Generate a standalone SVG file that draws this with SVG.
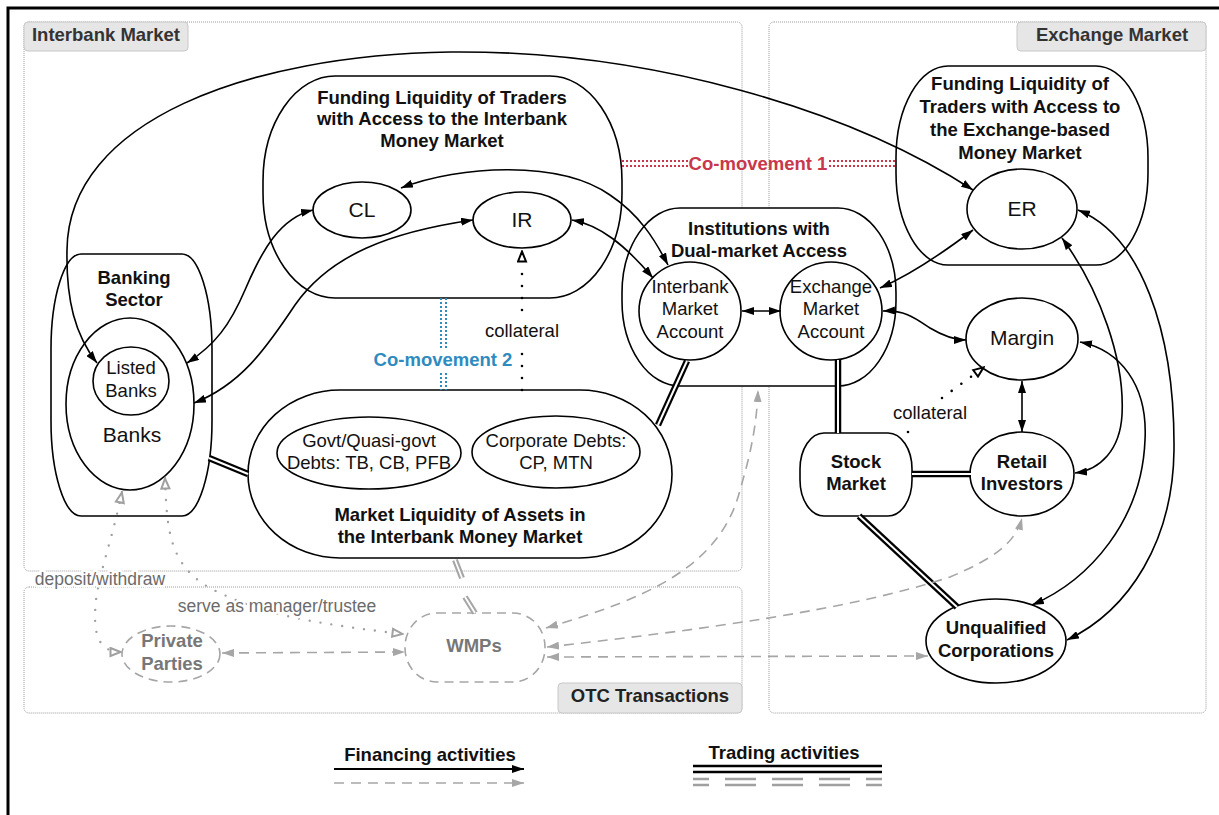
<svg xmlns="http://www.w3.org/2000/svg" width="1219" height="815" viewBox="0 0 1219 815">
<style>
.t{font-family:"Liberation Sans",Arial,sans-serif;font-size:18.5px;text-anchor:middle;fill:#111}
.b{font-weight:bold}
.big{font-size:21px}
.g{fill:#6e6e6e}
.panel{fill:#fff;stroke:#9a9a9a;stroke-width:1;stroke-dasharray:1 1}
.tab{fill:#e6e6e6;stroke:#c8c8c8;stroke-width:1}
.tabt{font-family:"Liberation Sans",Arial,sans-serif;font-size:18.5px;font-weight:bold;fill:#333}
.n{fill:#fff;stroke:#000;stroke-width:1.6}
.ng{fill:#fff;stroke:#a6a6a6;stroke-width:1.6;stroke-dasharray:9 6}
.e{fill:none;stroke:#000;stroke-width:1.6;marker-start:url(#a);marker-end:url(#a)}
.ge{fill:none;stroke:#a6a6a6;stroke-width:1.6;stroke-dasharray:10 7;marker-start:url(#ag);marker-end:url(#ag)}
.gd{fill:none;stroke:#a0a0a0;stroke-width:2.4;stroke-dasharray:0 11;stroke-linecap:round;marker-start:url(#og);marker-end:url(#og)}
.dot{fill:none;stroke:#000;stroke-width:2.6;stroke-dasharray:0 12;stroke-linecap:round}
.d1{fill:none;stroke:#000;stroke-width:6.5}
.d2{fill:none;stroke:#fff;stroke-width:2}
.halo{paint-order:stroke;stroke:#fff;stroke-width:5px;stroke-linejoin:round}
</style>
<defs>
<marker id="a" viewBox="0 0 12 8" refX="12" refY="4" markerWidth="12" markerHeight="8" markerUnits="userSpaceOnUse" orient="auto-start-reverse"><path d="M0,0 L12,4 L0,8 z" fill="#000"/></marker>
<marker id="ag" viewBox="0 0 12 8" refX="12" refY="4" markerWidth="12" markerHeight="8" markerUnits="userSpaceOnUse" orient="auto-start-reverse"><path d="M0,0 L12,4 L0,8 z" fill="#a6a6a6"/></marker>
<marker id="o" viewBox="0 0 13 11" refX="12" refY="5.5" markerWidth="13" markerHeight="11" markerUnits="userSpaceOnUse" orient="auto-start-reverse"><path d="M1.5,1.5 L11.5,5.5 L1.5,9.5 z" fill="#fff" stroke="#000" stroke-width="2"/></marker>
<marker id="og" viewBox="0 0 13 11" refX="12" refY="5.5" markerWidth="13" markerHeight="11" markerUnits="userSpaceOnUse" orient="auto-start-reverse"><path d="M1.5,1.5 L11.5,5.5 L1.5,9.5 z" fill="#fff" stroke="#a0a0a0" stroke-width="2"/></marker>
</defs>
<rect x="0" y="0" width="1219" height="815" fill="#fff"/>
<rect x="8" y="8" width="1240" height="840" fill="none" stroke="#000" stroke-width="3"/>

<g id="panel-interbank">
<rect class="panel" x="24" y="22" width="718" height="549" rx="5"/>
<rect class="tab" x="24" y="22" width="164" height="29" rx="4"/>
<text class="tabt" x="106" y="41" text-anchor="middle">Interbank Market</text>
</g>
<g id="panel-otc">
<rect class="panel" x="24" y="587" width="718" height="126" rx="5"/>
<rect class="tab" x="558" y="683" width="184" height="30" rx="4"/>
<text class="tabt" x="650" y="702" text-anchor="middle" style="fill:#222">OTC Transactions</text>
</g>
<g id="panel-exchange">
<rect class="panel" x="769" y="22" width="437" height="691" rx="5"/>
<rect class="tab" x="1017" y="22" width="189" height="29" rx="4"/>
<text class="tabt" x="1112" y="41" text-anchor="middle">Exchange Market</text>
</g>

<g id="fl-interbank">
<rect class="n" x="263" y="76" width="359" height="222" rx="72" ry="105"/>
<text class="t b" x="442" y="104">Funding Liquidity of Traders</text>
<text class="t b" x="442" y="125">with Access to the Interbank</text>
<text class="t b" x="442" y="147">Money Market</text>
</g>
<g id="fl-exchange">
<rect class="n" x="896" y="66" width="252" height="199" rx="52" ry="92"/>
<text class="t b" x="1020" y="90">Funding Liquidity of</text>
<text class="t b" x="1020" y="113">Traders with Access to</text>
<text class="t b" x="1020" y="136">the Exchange-based</text>
<text class="t b" x="1020" y="159">Money Market</text>
</g>
<g id="banking-sector">
<rect class="n" x="51" y="254" width="161" height="262" rx="30" ry="95"/>
<text class="t b" x="134" y="284">Banking</text>
<text class="t b" x="134" y="306">Sector</text>
</g>
<g id="banks">
<ellipse class="n" cx="130" cy="404" rx="64" ry="86"/>
<text class="t big" x="132" y="442">Banks</text>
</g>
<g id="listed-banks">
<ellipse class="n" cx="131" cy="381" rx="38" ry="34"/>
<text class="t" x="131" y="374">Listed</text>
<text class="t" x="131" y="397">Banks</text>
</g>
<g id="market-liquidity">
<rect class="n" x="248" y="390" width="424" height="168" rx="92" ry="84"/>
<text class="t b" x="460" y="521">Market Liquidity of Assets in</text>
<text class="t b" x="460" y="543">the Interbank Money Market</text>
</g>
<g id="govt-debts">
<ellipse class="n" cx="369" cy="453" rx="92" ry="36"/>
<text class="t" x="369" y="447">Govt/Quasi-govt</text>
<text class="t" x="369" y="469">Debts: TB, CB, PFB</text>
</g>
<g id="corp-debts">
<ellipse class="n" cx="556" cy="452" rx="84" ry="36"/>
<text class="t" x="556" y="447">Corporate Debts:</text>
<text class="t" x="556" y="469">CP, MTN</text>
</g>
<g id="cl">
<ellipse class="n" cx="362" cy="210" rx="49" ry="28"/>
<text class="t big" x="362" y="217">CL</text>
</g>
<g id="ir">
<ellipse class="n" cx="522" cy="220" rx="49" ry="28"/>
<text class="t big" x="522" y="227">IR</text>
</g>
<g id="institutions">
<rect class="n" x="622" y="208" width="274" height="178" rx="58" ry="85"/>
<text class="t b" x="759" y="235">Institutions with</text>
<text class="t b" x="759" y="257">Dual-market Access</text>
</g>
<g id="ima">
<ellipse class="n" cx="690" cy="311" rx="51" ry="49"/>
<text class="t" x="690" y="293">Interbank</text>
<text class="t" x="690" y="315">Market</text>
<text class="t" x="690" y="338">Account</text>
</g>
<g id="ema">
<ellipse class="n" cx="831" cy="311" rx="51" ry="49"/>
<text class="t" x="831" y="293">Exchange</text>
<text class="t" x="831" y="315">Market</text>
<text class="t" x="831" y="338">Account</text>
</g>
<g id="er">
<ellipse class="n" cx="1022" cy="209" rx="55" ry="40"/>
<text class="t big" x="1022" y="216">ER</text>
</g>
<g id="margin">
<ellipse class="n" cx="1022" cy="339" rx="56" ry="41"/>
<text class="t big" x="1022" y="345">Margin</text>
</g>
<g id="retail">
<ellipse class="n" cx="1022" cy="474" rx="52" ry="42"/>
<text class="t b" x="1022" y="468">Retail</text>
<text class="t b" x="1022" y="490">Investors</text>
</g>
<g id="stock-market">
<rect class="n" x="800" y="433" width="112" height="83" rx="24" ry="36"/>
<text class="t b" x="856" y="468">Stock</text>
<text class="t b" x="856" y="490">Market</text>
</g>
<g id="unqualified">
<ellipse class="n" cx="996" cy="641" rx="70" ry="42"/>
<text class="t b" x="996" y="634">Unqualified</text>
<text class="t b" x="996" y="657">Corporations</text>
</g>
<g id="private-parties">
<ellipse class="ng" cx="171" cy="654" rx="49" ry="28"/>
<text class="t b g" x="172" y="647" style="fill:#777">Private</text>
<text class="t b g" x="172" y="670" style="fill:#777">Parties</text>
</g>
<g id="wmps">
<rect class="ng" x="405" y="613" width="140" height="69" rx="32" ry="34"/>
<text class="t b" x="474" y="652" style="fill:#777">WMPs</text>
</g>

<g id="connectors">
<path class="e" d="M97 363 C75 335 66 300 67 250 C68 120 250 55 450 52 C650 50 850 110 973 190"/>
<path class="e" d="M401 188 C460 165 560 160 610 195 C640 215 655 240 668 265"/>
<path class="e" d="M572 220 C600 225 625 245 653 278"/>
<path class="e" d="M313 210 C280 218 262 250 245 290 C230 325 215 345 187 363"/>
<path class="e" d="M473 220 C390 232 330 255 295 305 C265 350 240 385 194 403"/>
<path class="e" d="M742 311 L781 311"/>
<path class="e" d="M880 288 C910 275 940 255 973 230"/>
<path class="e" d="M883 311 C905 310 915 318 930 328 C945 337 955 340 966 340"/>
<path class="e" d="M1022 381 L1022 432"/>
<path class="e" d="M1062 238 C1100 290 1125 360 1122 415 C1120 450 1100 470 1075 473"/>
<path class="e" d="M1080 342 C1120 350 1148 385 1145 440 C1142 520 1090 580 1032 605"/>
<path class="e" d="M1078 210 C1140 235 1175 330 1174 450 C1173 540 1130 610 1067 640"/>

<path class="d1" d="M209 458 L248 474"/><path class="d2" d="M209 458 L248 474"/>
<path class="d1" d="M687 361 L658 425"/><path class="d2" d="M687 361 L658 425"/>
<path class="d1" d="M838 360 L838 433"/><path class="d2" d="M838 360 L838 433"/>
<path class="d1" d="M912 474 L971 474"/><path class="d2" d="M912 474 L971 474"/>
<path class="d1" d="M859 516 L957 607"/><path class="d2" d="M859 516 L957 607"/>
<path d="M455 560 L462 578 M465 597 L475 613" fill="none" stroke="#a6a6a6" stroke-width="6"/>
<path d="M455 560 L462 578 M465 597 L475 613" fill="none" stroke="#fff" stroke-width="1.8"/>

<path class="ge" d="M546 628 C640 600 720 570 740 490 C752 450 757 420 758 390"/>
<path class="ge" d="M547 647 C700 630 850 610 950 577 C990 560 1015 545 1022 518"/>
<path class="ge" d="M547 657 L928 656"/>
<path class="ge" d="M222 653 L405 652"/>

<path class="gd" d="M122 492 C112 540 100 570 96 600 C93 630 96 652 121 652"/>
<path class="gd" d="M165 478 C167 530 168 570 220 593 C260 612 300 622 403 634"/>

<path class="dot" d="M522 390 L522 352"/>
<path class="dot" d="M522 310 L522 262"/>
<path d="M522 262 L522 251" fill="none" stroke="none" marker-end="url(#o)"/>
<path class="dot" d="M908 432 L909 431"/>
<path class="dot" d="M942 398 L972 376"/>
<path d="M972 376 L984 367" fill="none" stroke="none" marker-end="url(#o)"/>

<path d="M622 161 L688 161 M622 166 L688 166 M829 161 L895 161 M829 166 L895 166" fill="none" stroke="#c8374a" stroke-width="2" stroke-dasharray="2 2"/>
<path d="M441 298 L441 350 M446 298 L446 350 M441 373 L441 390 M446 373 L446 390" fill="none" stroke="#2e8bc0" stroke-width="2" stroke-dasharray="2 2"/>
</g>

<g id="labels">
<text class="t b" x="758" y="170" style="fill:#c8374a">Co-movement 1</text>
<text class="t b" x="443" y="366" style="fill:#2e8bc0">Co-movement 2</text>
<text class="t" x="522" y="337">collateral</text>
<text class="t" x="930" y="419">collateral</text>
<text class="t halo" x="100" y="585" style="fill:#6b6b6b;font-size:17.5px">deposit/withdraw</text>
<text class="t halo" x="277" y="612" style="fill:#6b6b6b;font-size:17.5px">serve as manager/trustee</text>
</g>

<g id="legend">
<text class="t b" x="430" y="761">Financing activities</text>
<path d="M334 769 L524 769" fill="none" stroke="#000" stroke-width="2" marker-end="url(#a)"/>
<path d="M334 783 L524 783" fill="none" stroke="#a6a6a6" stroke-width="1.6" stroke-dasharray="10 7" marker-end="url(#ag)"/>
<text class="t b" x="784" y="759">Trading activities</text>
<path d="M693 766 L882 766 M693 772 L882 772" fill="none" stroke="#000" stroke-width="2.6"/>
<path d="M693 779 L882 779 M693 785 L882 785" fill="none" stroke="#a0a0a0" stroke-width="2.6" stroke-dasharray="31 16" stroke-dashoffset="15"/>
</g>
</svg>
